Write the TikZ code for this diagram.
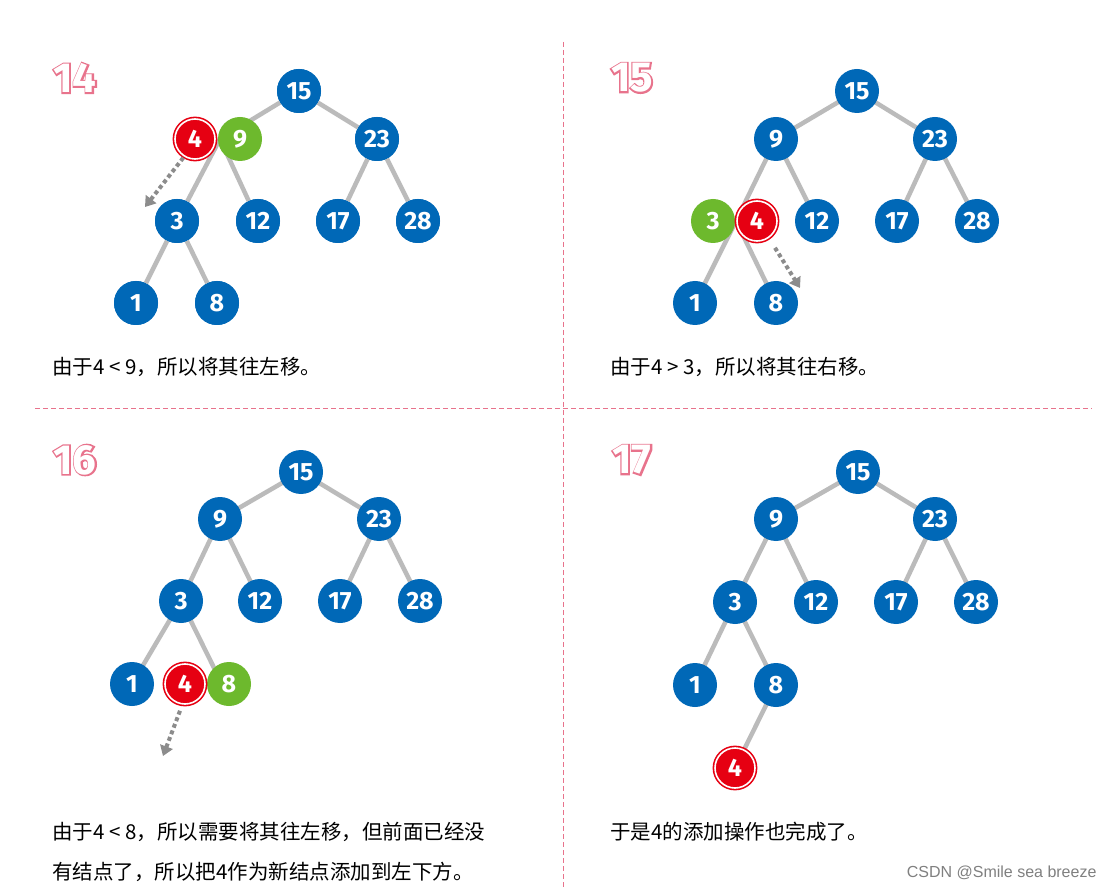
\documentclass[tikz,border=0pt]{standalone}
\usepackage{fontspec}
\setmainfont{Fira Sans}
\newfontfamily\cjk{Noto Sans CJK SC}
\newfontfamily\wmfont{Liberation Sans}
\newfontfamily\stepfont[FakeBold=7]{Fira Sans}
\usetikzlibrary{arrows.meta}
\definecolor{hblue}{HTML}{0068B7}
\definecolor{hgreen}{HTML}{6DB92D}
\definecolor{hred}{HTML}{E60012}
\definecolor{hedge}{HTML}{BBBBBB}
\definecolor{hpink}{HTML}{E8738C}
\begin{document}
\begin{tikzpicture}[x=1pt,y=-1pt]
        \tikzstyle{num} = [circle, minimum size=44pt, inner sep=0pt, text=white, font=\fontsize{25}{25}\selectfont\bfseries]
        \tikzstyle{blue} = [num, fill=hblue]
        \tikzstyle{green} = [num, fill=hgreen]
        \tikzstyle{red} = [num, fill=hred, draw=hred, line width=1.6pt, double=white, double distance=1.6pt, minimum size=40pt]
        \tikzstyle{edge} = [hedge, line width=4.5pt]
        \tikzstyle{move} = [gray!90, line width=4pt, dash pattern=on 4pt off 3pt, -{Triangle[length=10pt,width=13pt]}]
        \tikzstyle{divider} = [hpink, line width=1pt, dash pattern=on 5pt off 3pt]
        \tikzstyle{caption} = [anchor=west, inner sep=0pt, font=\cjk\fontsize{20.5}{20.5}\selectfont]
        \tikzstyle{steplabel} = [font=\fontsize{42}{42}\selectfont\bfseries]
        \useasboundingbox (0,0) rectangle (1114,890);
        \fill[white] (0,0) rectangle (1114,890);

        % dividers
        \draw [divider] (563,42) -- (563,890);
        \draw [divider] (35,409) -- (1092,409);

        % step labels
        \foreach \lx/\ly/\lt in {75/78/14, 632/78/15, 75/460/16, 632/460/17} {
            \node [steplabel, text=hpink, font=\stepfont\fontsize{42}{42}\selectfont\bfseries] at (\lx,\ly) {\lt};
            \node [steplabel, text=white] at (\lx,\ly) {\lt};
        }

        % step 14
        \coordinate (a9) at (220,139);
        \node (a15) [blue] at (299,91) {15};
        \node (a23) [blue] at (377,139) {23};
        \node (a3) [blue] at (177,221) {3};
        \node (a12) [blue] at (258,221) {12};
        \node (a17) [blue] at (338,221) {17};
        \node (a28) [blue] at (418,221) {28};
        \node (a1) [blue] at (136,303) {1};
        \node (a8) [blue] at (217,303) {8};
        \draw [edge] (a15) -- (a9);
        \draw [edge] (a15) -- (a23);
        \draw [edge] (a9) -- (a3);
        \draw [edge] (a9) -- (a12);
        \draw [edge] (a23) -- (a17);
        \draw [edge] (a23) -- (a28);
        \draw [edge] (a3) -- (a1);
        \draw [edge] (a3) -- (a8);
        \node (a9n) [green] at (240,139) {9};
        \node (a4) [red] at (195,139) {4};
        \foreach \n/\t in {a15/15,a23/23,a3/3,a12/12,a17/17,a28/28,a1/1,a8/8}
            \node [blue] at (\n) {\t};
        \coordinate (a4to) at (145,207);
        \draw [move] (a4.south west) ++(3,4) -- (a4to);
        \node (ta) [caption] at (52,367) {由于4 < 9，所以将其往左移。};

        % step 15
        \coordinate (b3) at (736,221);
        \coordinate (b15) at (857,91);
        \coordinate (b9) at (776,139);
        \coordinate (b23) at (935,139);
        \coordinate (b12) at (817,221);
        \coordinate (b17) at (897,221);
        \coordinate (b28) at (977,221);
        \coordinate (b1) at (695,303);
        \coordinate (b8) at (776,303);
        \draw [edge] (b15) -- (b9);
        \draw [edge] (b15) -- (b23);
        \draw [edge] (b9) -- (b3);
        \draw [edge] (b9) -- (b12);
        \draw [edge] (b23) -- (b17);
        \draw [edge] (b23) -- (b28);
        \draw [edge] (b3) -- (b1);
        \draw [edge] (b3) -- (b8);
        \foreach \n/\t in {b15/15,b9/9,b23/23,b12/12,b17/17,b28/28,b1/1,b8/8}
            \node [blue] at (\n) {\t};
        \node (b3n) [green] at (713,221) {3};
        \node (b4) [red] at (757,221) {4};
        \coordinate (b4to) at (800,288);
        \draw [move] (b4.south) ++(18,6) -- (b4to);
        \node (tb) [caption] at (610,367) {由于4 > 3，所以将其往右移。};

        % step 16
        \coordinate (c15) at (301,472);
        \coordinate (c9) at (220,519);
        \coordinate (c23) at (379,519);
        \coordinate (c3) at (181,601);
        \coordinate (c12) at (260,601);
        \coordinate (c17) at (340,601);
        \coordinate (c28) at (420,601);
        \coordinate (c1) at (132,684);
        \coordinate (c8) at (222,684);
        \draw [edge] (c15) -- (c9);
        \draw [edge] (c15) -- (c23);
        \draw [edge] (c9) -- (c3);
        \draw [edge] (c9) -- (c12);
        \draw [edge] (c23) -- (c17);
        \draw [edge] (c23) -- (c28);
        \draw [edge] (c3) -- (c1);
        \draw [edge] (c3) -- (c8);
        \foreach \n/\t in {c15/15,c9/9,c23/23,c3/3,c12/12,c17/17,c28/28,c1/1}
            \node [blue] at (\n) {\t};
        \node (c8n) [green] at (229,684) {8};
        \node (c4) [red] at (185,684) {4};
        \coordinate (c4to) at (163,756);
        \draw [move] (c4.south) ++(-5,6) -- (c4to);
        \node (tc1) [caption] at (52,832) {由于4 < 8，所以需要将其往左移，但前面已经没};
        \node (tc2) [caption] at (52,872) {有结点了，所以把4作为新结点添加到左下方。};

        % step 17
        \coordinate (d15) at (858,472);
        \coordinate (d9) at (776,519);
        \coordinate (d23) at (935,519);
        \coordinate (d3) at (735,602);
        \coordinate (d12) at (816,602);
        \coordinate (d17) at (896,602);
        \coordinate (d28) at (976,602);
        \coordinate (d1) at (695,685);
        \coordinate (d8) at (776,685);
        \coordinate (d4) at (735,768);
        \draw [edge] (d15) -- (d9);
        \draw [edge] (d15) -- (d23);
        \draw [edge] (d9) -- (d3);
        \draw [edge] (d9) -- (d12);
        \draw [edge] (d23) -- (d17);
        \draw [edge] (d23) -- (d28);
        \draw [edge] (d3) -- (d1);
        \draw [edge] (d3) -- (d8);
        \draw [edge] (d8) -- (d4);
        \foreach \n/\t in {d15/15,d9/9,d23/23,d3/3,d12/12,d17/17,d28/28,d1/1,d8/8}
            \node [blue] at (\n) {\t};
        \node (d4n) [red] at (d4) {4};
        \node (td) [caption] at (610,832) {于是4的添加操作也完成了。};

        \node (mark) [anchor=east, text=gray, font=\wmfont\fontsize{16}{16}\selectfont] at (1100,873) {CSDN @Smile sea breeze};
\end{tikzpicture}
\end{document}
